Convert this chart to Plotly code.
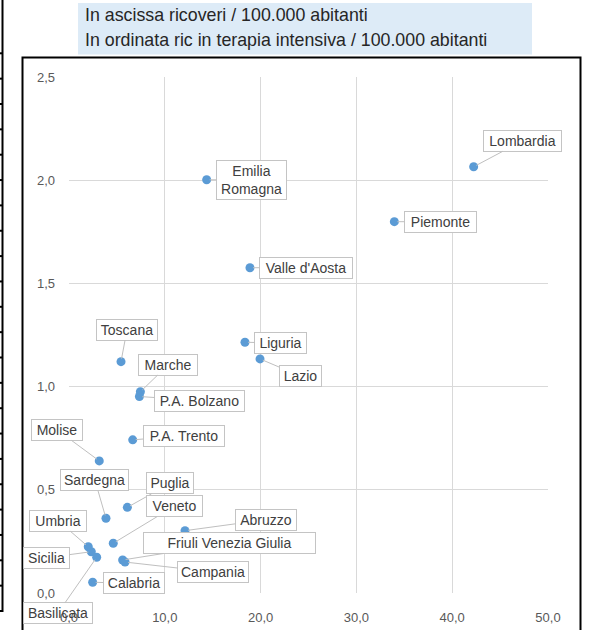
import plotly.graph_objects as go

# ---------------- data ----------------
regions = ["Lombardia", "Emilia<br>Romagna", "Piemonte", "Valle d'Aosta", "Liguria", "Lazio",
           "Toscana", "Marche", "P.A. Bolzano", "P.A. Trento", "Molise", "Sardegna",
           "Puglia", "Veneto", "Abruzzo", "Friuli Venezia Giulia", "Campania",
           "Umbria", "Sicilia", "Basilicata", "Calabria"]
ricoveri = [42.24, 14.37, 33.96, 18.89, 18.37, 19.94,
            5.43, 7.45, 7.35, 6.65, 3.16, 3.86,
            6.09, 4.62, 12.11, 5.60, 5.85,
            2.01, 2.33, 2.89, 2.47]
terapia_int = [2.065, 2.002, 1.799, 1.576, 1.215, 1.134,
               1.121, 0.975, 0.952, 0.742, 0.640, 0.362,
               0.415, 0.241, 0.302, 0.160, 0.150,
               0.224, 0.200, 0.173, 0.052]
x_ticks = [0, 10, 20, 30, 40, 50]
y_ticks = [0, 0.5, 1.0, 1.5, 2.0, 2.5]
title_lines = ["In ascissa ricoveri / 100.000 abitanti",
               "In ordinata ric in terapia intensiva / 100.000 abitanti"]

# label placement (pixel offsets of the label box centre from the point, box width)
label_style = {
    "Lombardia": (49, -26, 79),
    "Emilia<br>Romagna": (45, 0, 71),
    "Piemonte": (46, 0, 73),
    "Valle d'Aosta": (56, 0, 94),
    "Liguria": (36, 1, 53),
    "Lazio": (40, 17, 43),
    "Toscana": (6, -32, 62),
    "Marche": (28, -27, 60),
    "P.A. Bolzano": (60, 4, 91),
    "P.A. Trento": (51, -4, 82),
    "Molise": (-42, -31, 52),
    "Sardegna": (-11, -38, 69),
    "Puglia": (43, -24, 48),
    "Veneto": (61, -37, 57),
    "Abruzzo": (81, -11, 62),
    "Friuli Venezia Giulia": (107, -17, 173),
    "Campania": (88, 10, 72),
    "Umbria": (-30, -26, 58),
    "Sicilia": (-45, 6, 47),
    "Basilicata": (-39, 56, 70),
    "Calabria": (41, 1, 62),
}

# ---------------- geometry ----------------
W, H = 591, 630
ML, MR, MT, MB = 69, 43, 77, 37
PW, PH = W - ML - MR, H - MT - MB


def px(xp):
    return (xp - ML) / PW


def py(yp):
    return (H - MB - yp) / PH


fig = go.Figure()
fig.add_trace(go.Scatter(
    x=ricoveri, y=terapia_int, mode="markers",
    marker=dict(size=9, color="#5B9BD5", line=dict(width=0)),
    hoverinfo="skip", showlegend=False, cliponaxis=False))

annotations = []
for name, xv, yv in zip(regions, ricoveri, terapia_int):
    ax, ay, bw = label_style[name]
    annotations.append(dict(
        x=xv, y=yv, xref="x", yref="y", text=name,
        showarrow=True, arrowhead=0, arrowwidth=1, arrowcolor="#bfbfbf",
        ax=ax, ay=ay, standoff=3,
        bgcolor="rgba(0,0,0,0)" if name == "Basilicata" else "white",
        bordercolor="#c4c4c4", borderwidth=1, borderpad=2,
        width=bw - 6,
        font=dict(family="Liberation Sans", size=14, color="#404040")))

# title lines
for line, yc in zip(title_lines, [15, 40]):
    annotations.append(dict(x=px(83), y=py(yc), xref="paper", yref="paper", text=line,
                            showarrow=False, xanchor="left", yanchor="middle",
                            font=dict(family="Liberation Sans", size=17.8, color="#262626")))

shapes = []
# title background
shapes.append(dict(type="rect", xref="paper", yref="paper", x0=px(78), x1=px(532),
                   y0=py(54.5), y1=py(3), fillcolor="#DDEBF7", line=dict(width=0), layer="below"))
# chart frame
shapes.append(dict(type="rect", xref="paper", yref="paper", x0=px(22.5), x1=px(580.5),
                   y0=py(645), y1=py(57.5), fillcolor="rgba(0,0,0,0)",
                   line=dict(color="black", width=2), layer="below"))
# spreadsheet edge on the left
shapes.append(dict(type="line", xref="paper", yref="paper", x0=px(2.5), x1=px(2.5),
                   y0=py(612), y1=py(-2), line=dict(color="black", width=2)))
for k in range(23):
    yy = 53.3 + 25.35 * k
    shapes.append(dict(type="line", xref="paper", yref="paper", x0=px(0), x1=px(3),
                       y0=py(yy), y1=py(yy), line=dict(color="black", width=2)))

fig.update_layout(
    width=W, height=H, autosize=False,
    margin=dict(l=ML, r=MR, t=MT, b=MB, pad=0),
    paper_bgcolor="white", plot_bgcolor="white",
    separators=",.",
    annotations=annotations, shapes=shapes,
    font=dict(family="Liberation Sans", color="#595959"),
    xaxis=dict(range=[0, 50], tickvals=x_ticks, tickformat=".1f", showgrid=True,
               gridcolor="#d9d9d9", gridwidth=1, zeroline=False, showline=False,
               ticks="", ticklabelstandoff=15, automargin=False,
               tickfont=dict(family="Liberation Sans", size=13, color="#595959")),
    yaxis=dict(range=[0, 2.5], tickvals=y_ticks, tickformat=".1f", showgrid=True,
               gridcolor="#d9d9d9", gridwidth=1, zeroline=False, showline=False,
               ticks="", ticklabelstandoff=13, automargin=False,
               tickfont=dict(family="Liberation Sans", size=13, color="#595959")),
)

fig.write_html("out.html", config={"displayModeBar": False},
               post_script="document.body.style.margin='0px';document.body.style.overflow='hidden';")
